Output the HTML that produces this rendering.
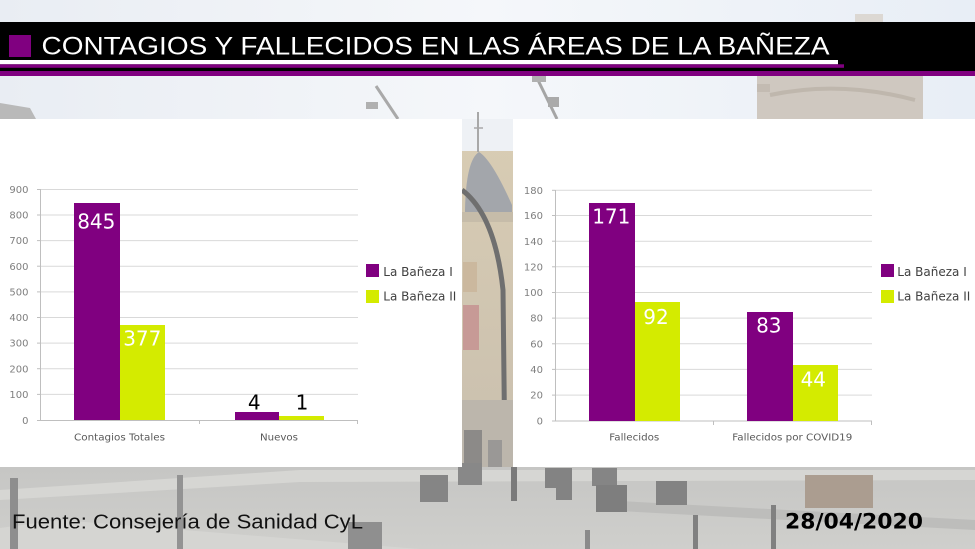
<!DOCTYPE html>
<html><head><meta charset="utf-8"><style>
html,body{margin:0;padding:0;background:#fff;}
svg{display:block;}
</style></head><body>
<svg width="975" height="549" viewBox="0 0 975 549" xmlns="http://www.w3.org/2000/svg">
<defs>
<linearGradient id="sky" x1="0" y1="0" x2="1" y2="0">
<stop offset="0" stop-color="#e9edf3"/><stop offset="0.5" stop-color="#f5f7fa"/><stop offset="1" stop-color="#e8eef6"/>
</linearGradient>
<linearGradient id="ground" x1="0" y1="0" x2="0" y2="1">
<stop offset="0" stop-color="#c6c6c4"/><stop offset="1" stop-color="#cfcfcc"/>
</linearGradient>
<linearGradient id="bld" x1="0" y1="0" x2="0" y2="1">
<stop offset="0" stop-color="#d9cdb4"/><stop offset="1" stop-color="#c9bfae"/>
</linearGradient>
</defs>

<!-- background photo approximation -->
<rect x="0" y="0" width="975" height="549" fill="url(#sky)"/>
<rect x="855" y="14" width="28" height="10" fill="#dcd8d3"/>
<!-- tower right top -->
<path d="M757 76 L923 76 L923 119 L757 119 Z" fill="#cfc8c0"/>
<path d="M757 84 L770 84 L770 92 L757 92 Z" fill="#c3bbb2"/>
<path d="M770 95 Q840 80 915 100" stroke="#bfb7ad" stroke-width="4" fill="none"/>
<!-- left corner -->
<path d="M0 103 L30 108 L36 119 L0 119 Z" fill="#b9b9b9"/>
<!-- lamps -->
<path d="M376 86 L398 119" stroke="#a9a9a9" stroke-width="3"/>
<rect x="366" y="102" width="12" height="7" fill="#b0b0b0"/>
<path d="M536 76 L557 119" stroke="#a5a5a5" stroke-width="3"/>
<rect x="548" y="97" width="11" height="10" fill="#aaaaaa"/>
<rect x="532" y="76" width="14" height="6" fill="#b0b0b0"/>

<!-- middle strip -->
<rect x="462" y="119" width="51" height="348" fill="url(#bld)"/>
<rect x="462" y="119" width="51" height="32" fill="#eef1f5"/>
<path d="M478 112 L478 152" stroke="#a8a8a8" stroke-width="2"/>
<path d="M474 128 L483 128" stroke="#a8a8a8" stroke-width="1.5"/>
<path d="M465 210 Q466 160 479 152 Q492 160 512 205 L512 212 L465 212 Z" fill="#a3a6ab"/>
<rect x="462" y="212" width="51" height="10" fill="#c6bca9"/>
<rect x="463" y="305" width="16" height="45" fill="#c79a96"/>
<rect x="463" y="262" width="14" height="30" fill="#cbb89e"/>
<path d="M462 190 Q495 215 503 290 L505 467" stroke="#6f6f6f" stroke-width="5" fill="none"/>
<rect x="462" y="400" width="51" height="67" fill="#bcb6ac"/>
<rect x="464" y="430" width="18" height="37" fill="#8c8a88"/>
<rect x="488" y="440" width="14" height="27" fill="#9a9896"/>

<!-- ground -->
<rect x="0" y="467" width="975" height="82" fill="url(#ground)"/>
<path d="M0 490 L300 470 L975 470 L975 480 L300 482 L0 500 Z" fill="#d6d6d3"/>
<path d="M60 520 L420 549 L0 549 L0 528 Z" fill="#d5d5d2"/>
<path d="M600 500 L975 520 L975 530 L600 510 Z" fill="#bdbdbb"/>
<rect x="10" y="478" width="8" height="71" fill="#8e8e8e"/>
<rect x="177" y="475" width="6" height="74" fill="#939393"/>
<rect x="348" y="522" width="34" height="27" fill="#8f8f8f"/>
<rect x="420" y="475" width="28" height="27" fill="#858585"/>
<rect x="458" y="463" width="24" height="22" fill="#888888"/>
<rect x="511" y="467" width="6" height="34" fill="#7a7a7a"/>
<rect x="545" y="468" width="27" height="20" fill="#838383"/>
<rect x="556" y="488" width="16" height="12" fill="#838383"/>
<rect x="592" y="468" width="25" height="18" fill="#858585"/>
<rect x="596" y="485" width="31" height="27" fill="#7e7e7e"/>
<rect x="656" y="481" width="31" height="24" fill="#838383"/>
<rect x="805" y="475" width="68" height="33" fill="#ab9d90"/>
<rect x="585" y="530" width="5" height="19" fill="#8a8a8a"/>
<rect x="693" y="515" width="5" height="34" fill="#808080"/>
<rect x="771" y="505" width="5" height="44" fill="#808080"/>

<!-- header -->
<rect x="0" y="22" width="975" height="49" fill="#000"/>
<rect x="0" y="60" width="838" height="4.3" fill="#fff"/>
<rect x="0" y="64.3" width="844" height="3.5" fill="#800080"/>
<rect x="0" y="71" width="975" height="5" fill="#800080"/>
<rect x="9" y="35" width="22" height="22" fill="#800080"/>
<text x="41.5" y="54.3" font-family="'Liberation Sans Narrow','Liberation Sans',sans-serif" font-size="25" fill="#fff" textLength="788" lengthAdjust="spacingAndGlyphs">CONTAGIOS Y FALLECIDOS EN LAS ÁREAS DE LA BAÑEZA</text>

<!-- panels -->
<rect x="0" y="119" width="462" height="348" fill="#fff"/>
<rect x="513" y="119" width="462" height="348" fill="#fff"/>

<!-- LEFT CHART -->
<g stroke="#d9d9d9" stroke-width="1">
<line x1="40" y1="189.5" x2="358" y2="189.5"/>
<line x1="40" y1="215" x2="358" y2="215"/>
<line x1="40" y1="240.6" x2="358" y2="240.6"/>
<line x1="40" y1="266.2" x2="358" y2="266.2"/>
<line x1="40" y1="291.9" x2="358" y2="291.9"/>
<line x1="40" y1="317.5" x2="358" y2="317.5"/>
<line x1="40" y1="343.1" x2="358" y2="343.1"/>
<line x1="40" y1="368.7" x2="358" y2="368.7"/>
<line x1="40" y1="394.4" x2="358" y2="394.4"/>
</g>
<g stroke="#bfbfbf" stroke-width="1">
<line x1="40.5" y1="189" x2="40.5" y2="420"/>
<line x1="40" y1="420.5" x2="358" y2="420.5"/>
<line x1="37" y1="189.5" x2="40" y2="189.5"/><line x1="37" y1="215" x2="40" y2="215"/><line x1="37" y1="240.6" x2="40" y2="240.6"/><line x1="37" y1="266.2" x2="40" y2="266.2"/><line x1="37" y1="291.9" x2="40" y2="291.9"/><line x1="37" y1="317.5" x2="40" y2="317.5"/><line x1="37" y1="343.1" x2="40" y2="343.1"/><line x1="37" y1="368.7" x2="40" y2="368.7"/><line x1="37" y1="394.4" x2="40" y2="394.4"/><line x1="37" y1="420.5" x2="40" y2="420.5"/>
<line x1="199.5" y1="420" x2="199.5" y2="424"/><line x1="357.5" y1="420" x2="357.5" y2="424"/>
</g>
<g font-family="'DejaVu Sans',sans-serif" font-size="10" fill="#7f7f7f" text-anchor="end">
<text x="28.5" y="193">900</text><text x="28.5" y="218.6">800</text><text x="28.5" y="244.2">700</text><text x="28.5" y="269.8">600</text><text x="28.5" y="295.5">500</text><text x="28.5" y="321.1">400</text><text x="28.5" y="346.7">300</text><text x="28.5" y="372.3">200</text><text x="28.5" y="398">100</text><text x="28.5" y="424">0</text>
</g>
<rect x="74" y="203" width="46" height="217" fill="#800080"/>
<rect x="120" y="325" width="45" height="95" fill="#d4eb00"/>
<rect x="235" y="412" width="44" height="8" fill="#800080"/>
<rect x="279" y="416" width="45" height="4" fill="#d4eb00"/>
<g font-family="'DejaVu Sans',sans-serif" font-size="20" text-anchor="middle">
<text x="96.3" y="228.3" fill="#fff">845</text>
<text x="142.3" y="345.7" fill="#fff">377</text>
<text x="254.3" y="409.3" fill="#000">4</text>
<text x="302" y="409.3" fill="#000">1</text>
</g>
<g font-family="'DejaVu Sans',sans-serif" font-size="9.5" fill="#595959">
<text x="74" y="440.5" textLength="91" lengthAdjust="spacingAndGlyphs">Contagios Totales</text>
<text x="260" y="440.5" textLength="38" lengthAdjust="spacingAndGlyphs">Nuevos</text>
</g>
<rect x="366" y="264" width="13" height="13" fill="#800080"/>
<rect x="366" y="290" width="13" height="13" fill="#d4eb00"/>
<g font-family="'DejaVu Sans',sans-serif" font-size="12" fill="#404040">
<text x="383.3" y="276">La Bañeza I</text>
<text x="383.3" y="300.5">La Bañeza II</text>
</g>

<!-- RIGHT CHART -->
<g stroke="#d9d9d9" stroke-width="1">
<line x1="555" y1="190.3" x2="872" y2="190.3"/>
<line x1="555" y1="215.5" x2="872" y2="215.5"/>
<line x1="555" y1="241.2" x2="872" y2="241.2"/>
<line x1="555" y1="266.8" x2="872" y2="266.8"/>
<line x1="555" y1="292.5" x2="872" y2="292.5"/>
<line x1="555" y1="318.1" x2="872" y2="318.1"/>
<line x1="555" y1="343.8" x2="872" y2="343.8"/>
<line x1="555" y1="369.4" x2="872" y2="369.4"/>
<line x1="555" y1="395.1" x2="872" y2="395.1"/>
</g>
<g stroke="#bfbfbf" stroke-width="1">
<line x1="555.5" y1="190" x2="555.5" y2="421"/>
<line x1="555" y1="421" x2="872" y2="421"/>
<line x1="552" y1="190.3" x2="555" y2="190.3"/><line x1="552" y1="215.5" x2="555" y2="215.5"/><line x1="552" y1="241.2" x2="555" y2="241.2"/><line x1="552" y1="266.8" x2="555" y2="266.8"/><line x1="552" y1="292.5" x2="555" y2="292.5"/><line x1="552" y1="318.1" x2="555" y2="318.1"/><line x1="552" y1="343.8" x2="555" y2="343.8"/><line x1="552" y1="369.4" x2="555" y2="369.4"/><line x1="552" y1="395.1" x2="555" y2="395.1"/><line x1="552" y1="421" x2="555" y2="421"/>
<line x1="713.5" y1="421" x2="713.5" y2="425"/><line x1="871.5" y1="421" x2="871.5" y2="425"/>
</g>
<g font-family="'DejaVu Sans',sans-serif" font-size="10" fill="#7f7f7f" text-anchor="end">
<text x="543" y="193.8">180</text><text x="543" y="219.1">160</text><text x="543" y="244.8">140</text><text x="543" y="270.4">120</text><text x="543" y="296.1">100</text><text x="543" y="321.7">80</text><text x="543" y="347.4">60</text><text x="543" y="373">40</text><text x="543" y="398.7">20</text><text x="543" y="424.5">0</text>
</g>
<rect x="589" y="203" width="46" height="218" fill="#800080"/>
<rect x="635" y="302" width="45" height="119" fill="#d4eb00"/>
<rect x="747" y="312" width="46" height="109" fill="#800080"/>
<rect x="793" y="365" width="45" height="56" fill="#d4eb00"/>
<g font-family="'DejaVu Sans',sans-serif" font-size="20" text-anchor="middle" fill="#fff">
<text x="611.3" y="223.3">171</text>
<text x="656" y="324">92</text>
<text x="768.8" y="332.7">83</text>
<text x="813.3" y="386.7">44</text>
</g>
<g font-family="'DejaVu Sans',sans-serif" font-size="9.5" fill="#595959">
<text x="609.3" y="440.5" textLength="50" lengthAdjust="spacingAndGlyphs">Fallecidos</text>
<text x="732.3" y="440.5" textLength="120" lengthAdjust="spacingAndGlyphs">Fallecidos por COVID19</text>
</g>
<rect x="881" y="264" width="13" height="13" fill="#800080"/>
<rect x="881" y="290" width="13" height="13" fill="#d4eb00"/>
<g font-family="'DejaVu Sans',sans-serif" font-size="12" fill="#404040">
<text x="897.3" y="276">La Bañeza I</text>
<text x="897.3" y="300.5">La Bañeza II</text>
</g>

<!-- footer -->
<text x="12" y="528.5" font-family="'Liberation Sans',sans-serif" font-size="20" fill="#111" textLength="351" lengthAdjust="spacingAndGlyphs">Fuente: Consejería de Sanidad CyL</text>
<text x="785" y="528.5" font-family="'DejaVu Sans',sans-serif" font-weight="bold" font-size="21.5" fill="#000" textLength="138" lengthAdjust="spacingAndGlyphs">28/04/2020</text>
</svg>
</body></html>
